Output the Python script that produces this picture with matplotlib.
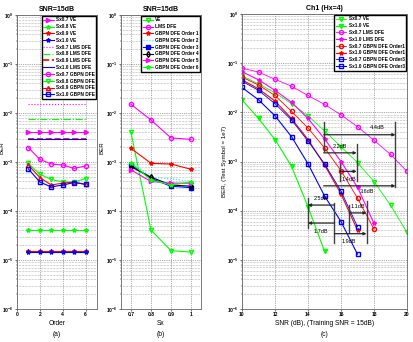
import numpy as np
import matplotlib
matplotlib.use('Agg')
import matplotlib.pyplot as plt

plt.rcParams['font.family'] = ['Liberation Sans', 'DejaVu Sans']
plt.rcParams['font.weight'] = 'bold'
plt.rcParams['mathtext.default'] = 'regular'

# ---------------- data ----------------
# (a) BER vs order, SNR = 15 dB
orders = [1, 2, 3, 4, 5, 6]
a_ve = [4.0e-3, 4.1e-5, 1.5e-5, 1.45e-5]          # Sx 0.7, 0.8, 0.9, 1.0 (flat)
a_lms = [1.5e-2, 7.6e-3, 3.0e-3, 2.9e-3]          # Sx 0.7, 0.8, 0.9, 1.0 (flat)
a_gbpn_07 = [1.96e-3, 1.13e-3, 9.1e-4, 8.7e-4, 7.4e-4, 8.3e-4]
a_gbpn_08 = [9.4e-4, 5.6e-4, 4.4e-4, 3.9e-4, 3.9e-4, 4.6e-4]
a_gbpn_09 = [8.7e-4, 4.8e-4, 3.4e-4, 3.7e-4, 3.9e-4, 3.5e-4]
a_gbpn_10 = [7.2e-4, 3.9e-4, 3.1e-4, 3.4e-4, 3.8e-4, 3.5e-4]

# (b) BER vs Sx, SNR = 15 dB
sx = [0.7, 0.8, 0.9, 1.0]
b_ve = [4.0e-3, 4.1e-5, 1.55e-5, 1.45e-5]
b_lms = [1.5e-2, 7.2e-3, 3.1e-3, 2.9e-3]
b_o1 = [1.9e-3, 9.4e-4, 9.1e-4, 7.1e-4]
b_o2 = [1.0e-3, 4.9e-4, 4.5e-4, 4.1e-4]
b_o3 = [8.7e-4, 4.6e-4, 3.2e-4, 3.0e-4]
b_o4 = [8.0e-4, 4.9e-4, 3.4e-4, 3.2e-4]
b_o5 = [6.9e-4, 4.0e-4, 3.7e-4, 3.7e-4]
b_o6 = [9.6e-4, 4.3e-4, 3.4e-4, 3.9e-4]

# (c) BER vs SNR, Ch1 (Hx=4)
snr = [10, 11, 12, 13, 14, 15, 16, 17, 18, 19, 20]
c_ve07 = [5.5e-2, 3.8e-2, 2.5e-2, 1.5e-2, 8.5e-3, 4.2e-3, 2.0e-3, 9.5e-4, 3.9e-4, 1.3e-4, 3.6e-5]
c_ve10 = [1.8e-2, 7.5e-3, 2.8e-3, 8.0e-4, 1.2e-4, 1.5e-5]
c_lms07 = [7.9e-2, 6.6e-2, 4.7e-2, 3.4e-2, 2.2e-2, 1.45e-2, 8.9e-3, 5.1e-3, 2.7e-3, 1.4e-3, 6.3e-4]
c_lms10 = [6.7e-2, 4.6e-2, 2.8e-2, 1.6e-2, 7.5e-3, 2.9e-3, 1.0e-3, 3.0e-4, 5.5e-5]
c_o1_07 = [5.2e-2, 3.6e-2, 2.2e-2, 1.05e-2, 4.8e-3, 1.9e-3, 6.5e-4, 1.8e-4, 4.2e-5]
c_o1_10 = [4.6e-2, 3.0e-2, 1.7e-2, 7.5e-3, 2.8e-3, 8.5e-4, 2.2e-4, 4.0e-5]
c_o3_07 = [4.3e-2, 2.8e-2, 1.5e-2, 7.0e-3, 2.6e-3, 9.0e-4, 2.5e-4, 4.7e-5]
c_o3_10 = [3.2e-2, 1.8e-2, 8.5e-3, 3.2e-3, 9.0e-4, 2.0e-4, 6.0e-5, 1.3e-5]

# annotation marks in (c): vertical bars (snr, ber_top, ber_bottom)
c_bars = [(14.95, 6.5e-3, 1.6e-3), (16.95, 2.3e-3, 4e-4), (19.3, 6.5e-3, 3e-4),
          (15.95, 9e-4, 4e-4), (14.0, 1.8e-4, 4.5e-5), (15.6, 1.4e-4, 2.2e-5),
          (16.5, 1.3e-4, 3.5e-5), (17.55, 1.6e-4, 2.2e-5)]
# arrows (from_snr, to_snr, ber, text, text_snr, text_ber)
c_arrows = [(14.95, 19.3, 3.5e-3, '4.4dB', 18.2, 4.9e-3),
            (14.95, 16.95, 1.5e-3, '2.2dB', 15.9, 2.0e-3),
            (15.95, 16.95, 6.3e-4, '1.4dB', 16.5, 4.4e-4),
            (14.95, 19.3, 3.2e-4, '3.6dB', 17.6, 2.5e-4),
            (15.6, 14.0, 1.3e-4, '2.5dB', 14.75, 1.75e-4),
            (16.5, 17.55, 9e-5, '1.1dB', 17.0, 1.2e-4),
            (15.6, 14.0, 5.6e-5, '1.7dB', 14.75, 3.8e-5),
            (15.6, 17.55, 3.4e-5, '1.9dB', 16.5, 2.4e-5)]

G = '#00ff00'
M = '#ff00ff'
R = '#ff0000'
B = '#0000ff'
C = '#00ffff'
ms = 3.0
lw = 0.8

W, H = 413, 342
fig = plt.figure(figsize=(W / 100, H / 100), dpi=100)


def px_axes(l, r, t, b):
    return fig.add_axes([l / W, 1 - b / H, (r - l) / W, (b - t) / H])


def style(ax):
    ax.set_yscale('log')
    ax.set_ylim(1e-6, 1)
    ax.set_yticks([1e-6, 1e-5, 1e-4, 1e-3, 1e-2, 1e-1, 1])
    ax.grid(True, which='major', ls=':', lw=0.5, color='0.35')
    ax.grid(True, which='minor', axis='y', ls=':', lw=0.4, color='0.45')
    ax.tick_params(labelsize=3.6, length=1.5, width=0.4, pad=1.0)
    ax.tick_params(which='minor', length=1, width=0.3)
    for s in ax.spines.values():
        s.set_linewidth(0.6)
        s.set_color('0.4')


leg_kw = dict(loc='upper right', fontsize=3.4, handlelength=2.2, borderpad=0.35,
              labelspacing=0.38, handletextpad=0.45, borderaxespad=0.15,
              fancybox=False, edgecolor='black', framealpha=1)

# ---------------- (a) ----------------
ax1 = px_axes(17, 97, 15, 309)
style(ax1)
n = len(orders)
ax1.plot(orders, [a_ve[0]] * n, '->', color=M, ms=ms, lw=lw, label='Sx0.7 VE')
ax1.plot(orders, [a_ve[1]] * n, '-*', color=G, ms=ms, lw=lw, label='Sx0.8 VE')
ax1.plot(orders, [a_ve[2]] * n, '-*', color=R, ms=ms, lw=lw, label='Sx0.9 VE')
ax1.plot(orders, [a_ve[3]] * n, '-*', color=B, ms=ms, lw=lw, label='Sx1.0 VE')
ax1.plot(orders, [a_lms[0]] * n, ':', color=M, lw=lw, label='Sx0.7 LMS DFE')
ax1.plot(orders, [a_lms[1]] * n, '-.', color=G, lw=lw, label='Sx0.8 LMS DFE')
ax1.plot(orders, [a_lms[2]] * n, '--', color=R, lw=1.2, label='Sx0.9 LMS DFE')
ax1.plot(orders, [a_lms[3]] * n, '-', color=B, lw=lw, label='Sx1.0 LMS DFE')
ax1.plot(orders, a_gbpn_07, '-o', color=M, ms=ms, lw=lw, mfc='none', label='Sx0.7 GBPN DFE')
ax1.plot(orders, a_gbpn_08, '-v', color=G, ms=ms, lw=lw, mfc='none', label='Sx0.8 GBPN DFE')
ax1.plot(orders, a_gbpn_09, '-^', color=R, ms=ms, lw=lw, mfc='none', label='Sx0.9 GBPN DFE')
ax1.plot(orders, a_gbpn_10, '-s', color=B, ms=ms, lw=lw, mfc='none', label='Sx1.0 GBPN DFE')
ax1.set_xlim(0, 7)
ax1.set_xticks([0, 2, 4, 6])
ax1.legend(**leg_kw)
ax1.set_title('SNR=15dB', fontsize=5, fontweight='bold', pad=3)
ax1.set_xlabel('Order', fontsize=4.8, labelpad=2)
ax1.set_ylabel('BER', fontsize=4.4)
ax1.yaxis.set_label_coords(-0.15, 0.55)

# ---------------- (b) ----------------
ax2 = px_axes(121, 201, 15, 309)
style(ax2)
ax2.plot(sx, b_ve, '-v', color=G, ms=ms, lw=lw, mfc='none', label='VE')
ax2.plot(sx, b_lms, '-o', color=M, ms=ms, lw=lw, mfc='none', label='LMS DFE')
ax2.plot(sx, b_o1, '-*', color=R, ms=ms, lw=lw, label='GBPN DFE Order 1')
ax2.plot(sx, b_o2, ':', color=C, ms=ms, lw=lw, label='GBPN DFE Order 2')
ax2.plot(sx, b_o3, '-s', color=B, ms=ms, lw=lw, label='GBPN DFE Order 3')
ax2.plot(sx, b_o4, '-d', color='black', ms=ms, lw=lw, mfc='none', label='GBPN DFE Order 4')
ax2.plot(sx, b_o5, '->', color=M, ms=ms, lw=lw, label='GBPN DFE Order 5')
ax2.plot(sx, b_o6, '-*', color=G, ms=ms, lw=lw, label='GBPN DFE Order 6')
ax2.set_xlim(0.65, 1.05)
ax2.set_xticks(sx)
ax2.set_xticklabels(['0.7', '0.8', '0.9', '1'])
ax2.legend(**leg_kw)
ax2.set_title('SNR=15dB', fontsize=5, fontweight='bold', pad=3)
ax2.set_xlabel('Sx', fontsize=4.8, labelpad=2)
ax2.set_ylabel('BER', fontsize=4.4)
ax2.yaxis.set_label_coords(-0.2, 0.55)

# ---------------- (c) ----------------
ax3 = px_axes(242, 407, 14, 309)
style(ax3)
ax3.plot(snr[:len(c_ve07)], c_ve07, '-v', color=G, ms=ms, lw=0.6, mfc='none', label='Sx0.7 VE')
ax3.plot(snr[:len(c_ve10)], c_ve10, '-v', color=G, ms=ms, lw=lw, label='Sx1.0 VE')
ax3.plot(snr[:len(c_lms07)], c_lms07, '-o', color=M, ms=ms, lw=0.6, mfc='none', label='Sx0.7 LMS DFE')
ax3.plot(snr[:len(c_lms10)], c_lms10, '-*', color=M, ms=ms, lw=lw, label='Sx1.0 LMS DFE')
ax3.plot(snr[:len(c_o1_07)], c_o1_07, '-o', color=R, ms=ms, lw=0.6, mfc='none', label='Sx0.7 GBPN DFE Order1')
ax3.plot(snr[:len(c_o1_10)], c_o1_10, '-*', color=R, ms=ms, lw=lw, label='Sx1.0 GBPN DFE Order1')
ax3.plot(snr[:len(c_o3_07)], c_o3_07, '-s', color=B, ms=ms, lw=0.6, mfc='none', label='Sx0.7 GBPN DFE Order3')
ax3.plot(snr[:len(c_o3_10)], c_o3_10, '-s', color=B, ms=ms, lw=lw, mfc='none', label='Sx1.0 GBPN DFE Order3')
for s0, top, bot in c_bars:
    ax3.plot([s0, s0], [top, bot], color='0.25', lw=1.0)
for s0, s1, ber, txt, ts, tb in c_arrows:
    ax3.annotate('', xy=(s1, ber), xytext=(s0, ber),
                 arrowprops=dict(arrowstyle='-|>', color='0.15', lw=0.9,
                                 mutation_scale=4, shrinkA=0, shrinkB=0))
    ax3.text(ts, tb, txt, fontsize=4, fontweight='normal', ha='center', va='center')
ax3.set_xlim(10, 20)
ax3.set_xticks([10, 12, 14, 16, 18, 20])
ax3.legend(**leg_kw)
ax3.set_title('Ch1 (Hx=4)', fontsize=5, fontweight='bold', pad=3)
ax3.set_xlabel('SNR (dB), (Training SNR = 15dB)', fontsize=4.8, labelpad=2)
ax3.set_ylabel('BER, (Test Symbol = 1e7)', fontsize=4.4)
ax3.yaxis.set_label_coords(-0.088, 0.5)

for ax, lab in [(ax1, '(a)'), (ax2, '(b)'), (ax3, '(c)')]:
    p = ax.get_position()
    fig.text((p.x0 + p.x1) / 2, 1 - 335 / H, lab, fontsize=4.8, fontweight='normal',
             ha='center', va='center')

fig.savefig('out.png', dpi=100)
